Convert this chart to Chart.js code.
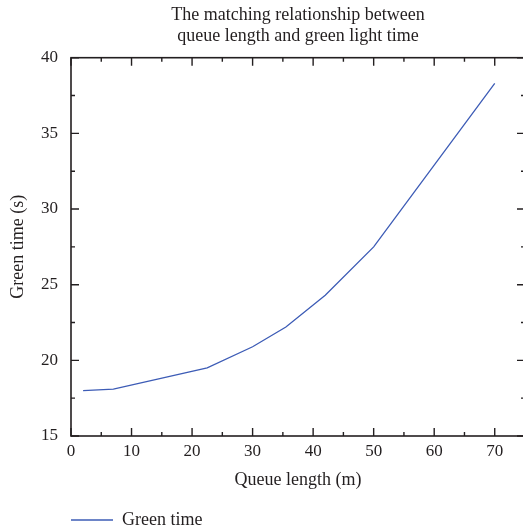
<!DOCTYPE html>
<html>
<head>
<meta charset="utf-8">
<script src="https://cdn.jsdelivr.net/npm/chart.js@4/dist/chart.umd.min.js"></script>
<style>
  html, body { margin: 0; padding: 0; background: #ffffff; overflow: hidden; }
  #wrap { width: 530px; height: 531px; }
</style>
</head>
<body>
<div id="wrap"><canvas id="chart" width="530" height="531"></canvas></div>
<script>
// Queue length (m) against the matching green time (s)
const queueLength = [2, 7, 22.5, 30, 35.5, 42, 50, 70];
const greenTime   = [18.0, 18.1, 19.5, 20.9, 22.2, 24.3, 27.5, 38.3];

// Axis ticks
const xMajorTicks = [0, 10, 20, 30, 40, 50, 60, 70];
const xMinorTicks = [5, 15, 25, 35, 45, 55, 65];
const yMajorTicks = [15, 20, 25, 30, 35, 40];
const yMinorTicks = [17.5, 22.5, 27.5, 32.5, 37.5];

const titleLines = ['The matching relationship between', 'queue length and green light time'];
const seriesName = 'Green time';
const xTitle = 'Queue length (m)';
const yTitle = 'Green time (s)';

const ink = '#231f20';
const lineBlue = '#3d5cb6';
const serif = "'Liberation Serif', 'DejaVu Serif', serif";

// Boxed frame with inward major/minor ticks on all four sides
const frameTicks = {
  id: 'frameTicks',
  afterDraw(chart) {
    const { ctx, chartArea: a, scales } = chart;
    const xs = scales.x, ys = scales.y;
    ctx.save();
    ctx.strokeStyle = ink;
    ctx.lineWidth = 1.4;
    ctx.beginPath();
    const tick = (x1, y1, x2, y2) => { ctx.moveTo(x1, y1); ctx.lineTo(x2, y2); };
    const xMarks = (vals, len) => vals.forEach(v => {
      const px = xs.getPixelForValue(v);
      tick(px, a.bottom, px, a.bottom - len);
      tick(px, a.top, px, a.top + len);
    });
    const yMarks = (vals, len) => vals.forEach(v => {
      const py = ys.getPixelForValue(v);
      tick(a.left, py, a.left + len, py);
      tick(a.right, py, a.right - len, py);
    });
    xMarks(xMajorTicks, 8); xMarks(xMinorTicks, 4);
    yMarks(yMajorTicks, 8); yMarks(yMinorTicks, 4);
    ctx.stroke();
    ctx.lineWidth = 1.6;
    ctx.strokeRect(a.left, a.top, a.right - a.left, a.bottom - a.top);
    ctx.restore();
  }
};

new Chart(document.getElementById('chart'), {
  type: 'line',
  data: {
    datasets: [{
      label: seriesName,
      data: queueLength.map((q, i) => ({ x: q, y: greenTime[i] })),
      borderColor: lineBlue,
      backgroundColor: lineBlue,
      borderWidth: 1.3,
      pointRadius: 0,
      tension: 0,
      fill: false
    }]
  },
  options: {
    responsive: false,
    animation: false,
    events: [],
    layout: { padding: { left: 0, right: 5, top: 0, bottom: -8 } },
    plugins: {
      title: {
        display: true,
        text: titleLines,
        fullSize: false,
        color: ink,
        font: { family: serif, size: 18, weight: 'normal', lineHeight: 1.2 },
        padding: { top: 4, bottom: 10.5 }
      },
      legend: {
        display: true,
        position: 'bottom',
        align: 'start',
        fullSize: false,
        labels: {
          color: ink,
          font: { family: serif, size: 18 },
          usePointStyle: true,
          pointStyle: 'line',
          pointStyleWidth: 42,
          padding: 0
        }
      },
      tooltip: { enabled: false }
    },
    scales: {
      x: {
        type: 'linear',
        min: 0,
        max: 75,
        afterBuildTicks: s => { s.ticks = xMajorTicks.map(v => ({ value: v })); },
        afterFit: s => { s.height = 75; },
        grid: { display: false, drawTicks: false },
        border: { display: false },
        ticks: { color: ink, padding: 5, font: { family: serif, size: 17 } },
        title: {
          display: true, text: xTitle, color: ink,
          font: { family: serif, size: 18 },
          padding: { top: 0, bottom: 20 }
        }
      },
      y: {
        type: 'linear',
        min: 15,
        max: 40,
        afterBuildTicks: s => { s.ticks = yMajorTicks.map(v => ({ value: v })); },
        afterFit: s => { s.width = 71; },
        grid: { display: false, drawTicks: false },
        border: { display: false },
        ticks: { color: ink, padding: 13, font: { family: serif, size: 17 } },
        title: {
          display: true, text: yTitle, color: ink,
          font: { family: serif, size: 18 },
          padding: { top: 7, bottom: 0 }
        }
      }
    }
  },
  plugins: [frameTicks]
});
</script>
</body>
</html>
